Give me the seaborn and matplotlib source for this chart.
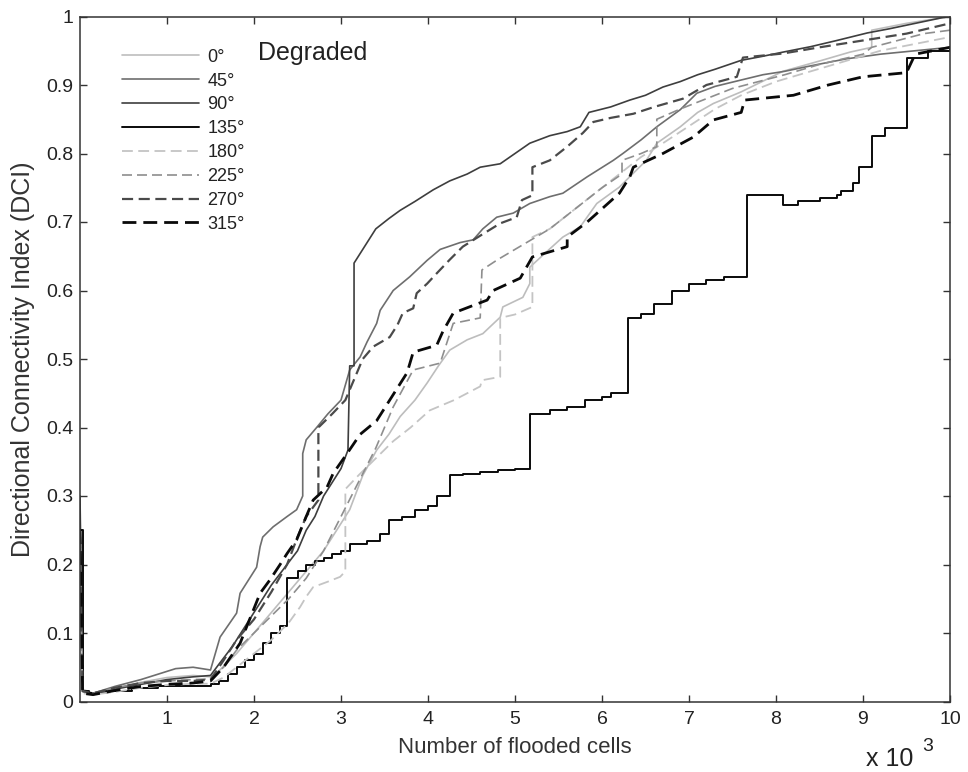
import matplotlib
matplotlib.use("Agg")
import matplotlib.pyplot as plt
from matplotlib.lines import Line2D
import numpy as np
import pandas as pd
import seaborn as sns

# Directional Connectivity Index vs number of flooded cells (x 10^3), degraded site
DIRECTIONS = ["0°", "45°", "90°", "135°", "180°", "225°", "270°", "315°"]

DCI_000 = [(0, .28), (.03, .018), (.15, .012), (.4, .018), (.7, .028), (1.0, .035), (1.3, .038),
           (1.5, .036), (1.6, .045), (1.8, .07), (2.0, .10), (2.2, .13), (2.4, .16), (2.6, .19),
           (2.8, .22), (3.0, .26), (3.1, .28), (3.25, .33), (3.41, .367), (3.55, .39), (3.68, .416),
           (3.85, .44), (3.99, .465), (4.12, .49), (4.25, .513), (4.45, .528), (4.63, .537),
           (4.83, .561), (4.86, .576), (5.09, .59), (5.17, .61), (5.17, .634), (5.35, .655),
           (5.55, .678), (5.75, .693), (5.94, .727), (6.2, .751), (6.35, .77), (6.51, .79),
           (6.63, .815), (6.9, .839), (7.1, .86), (7.28, .873), (7.6, .89), (8.08, .92), (8.5, .935),
           (8.85, .948), (9.1, .955), (9.1, .98), (9.5, .99), (10, 1.0)]

DCI_045 = [(0, .26), (.03, .015), (.15, .012), (.4, .022), (.7, .032), (.9, .04), (1.1, .048),
           (1.3, .05), (1.5, .046), (1.61, .094), (1.8, .129), (1.84, .158), (2.03, .196),
           (2.07, .226), (2.1, .24), (2.22, .255), (2.38, .27), (2.49, .28), (2.56, .30), (2.56, .362),
           (2.6, .382), (2.72, .40), (2.85, .42), (3.0, .44), (3.1, .484), (3.22, .503), (3.3, .525),
           (3.41, .552), (3.45, .571), (3.6, .60), (3.79, .62), (3.99, .644), (4.14, .66), (4.37, .67),
           (4.52, .674), (4.63, .69), (4.79, .707), (4.98, .713), (5.17, .727), (5.4, .737),
           (5.55, .742), (5.83, .766), (6.13, .79), (6.24, .80), (6.45, .82), (6.63, .839),
           (6.9, .864), (7.09, .888), (7.3, .898), (7.59, .907), (7.85, .915), (8.1, .92), (8.4, .928),
           (8.8, .938), (9.2, .945), (9.6, .95), (10, .955)]

DCI_090 = [(0, .30), (.03, .015), (.15, .012), (.4, .018), (.7, .025), (1.0, .032), (1.3, .036),
           (1.5, .038), (1.6, .055), (1.75, .08), (1.9, .11), (2.05, .14), (2.2, .17), (2.38, .20),
           (2.5, .22), (2.6, .25), (2.7, .27), (2.8, .30), (2.9, .32), (3.0, .34), (3.08, .367),
           (3.1, .49), (3.15, .49), (3.15, .64), (3.25, .66), (3.4, .69), (3.55, .705), (3.68, .717),
           (3.85, .73), (4.06, .747), (4.25, .76), (4.45, .77), (4.6, .78), (4.83, .785), (5.0, .80),
           (5.17, .815), (5.4, .826), (5.6, .832), (5.75, .839), (5.85, .86), (6.1, .868),
           (6.32, .878), (6.5, .885), (6.7, .897), (6.9, .905), (7.1, .915), (7.3, .923), (7.6, .936),
           (7.85, .942), (8.08, .948), (8.4, .956), (8.7, .965), (9.05, .976), (9.3, .982),
           (9.6, .99), (9.9, .998), (10, 1.0)]

DCI_135 = [(0, .25), (.03, .015), (.1, .012), (.3, .015), (.6, .02), (.9, .022), (1.2, .022),
           (1.5, .025), (1.6, .03), (1.7, .04), (1.8, .05), (1.9, .06), (2.0, .07), (2.1, .085),
           (2.2, .10), (2.3, .11), (2.38, .18), (2.5, .19), (2.6, .20), (2.7, .205), (2.8, .21),
           (2.9, .215), (3.0, .22), (3.1, .23), (3.3, .235), (3.45, .245), (3.55, .265), (3.7, .27),
           (3.85, .28), (4.0, .285), (4.1, .30), (4.25, .33), (4.4, .332), (4.6, .335), (4.8, .338),
           (5.0, .34), (5.17, .42), (5.4, .425), (5.6, .43), (5.8, .44), (6.0, .445), (6.1, .45),
           (6.3, .56), (6.45, .565), (6.6, .58), (6.8, .60), (7.0, .61), (7.2, .615), (7.4, .62),
           (7.67, .74), (8.08, .725), (8.25, .73), (8.5, .735), (8.7, .74), (8.75, .745),
           (8.89, .757), (8.95, .78), (9.1, .825), (9.25, .837), (9.5, .94), (9.75, .95), (10, .955)]

DCI_180 = [(0, .20), (.03, .012), (.15, .01), (.4, .014), (.7, .02), (1.0, .024), (1.3, .026),
           (1.5, .026), (1.65, .035), (1.8, .05), (2.0, .07), (2.2, .09), (2.4, .115), (2.53, .138),
           (2.6, .153), (2.68, .167), (2.85, .175), (2.99, .182), (3.05, .19), (3.05, .31),
           (3.2, .33), (3.4, .355), (3.6, .38), (3.8, .40), (4.02, .425), (4.3, .44), (4.6, .46),
           (4.62, .469), (4.83, .474), (4.83, .56), (5.0, .565), (5.2, .576), (5.2, .678),
           (5.4, .69), (5.6, .71), (5.8, .73), (6.0, .75), (6.2, .77), (6.45, .795), (6.7, .815),
           (7.0, .84), (7.3, .865), (7.6, .885), (8.0, .905), (8.4, .92), (8.8, .935), (9.2, .95),
           (9.6, .96), (10, .97)]

DCI_225 = [(0, .22), (.03, .015), (.15, .012), (.4, .02), (.7, .027), (1.0, .03), (1.3, .032),
           (1.5, .033), (1.65, .05), (1.8, .075), (2.0, .10), (2.2, .125), (2.4, .15), (2.6, .18),
           (2.8, .22), (3.0, .27), (3.2, .32), (3.4, .37), (3.6, .43), (3.83, .484), (4.14, .494),
           (4.29, .552), (4.6, .56), (4.62, .63), (4.8, .645), (5.0, .66), (5.2, .675), (5.4, .69),
           (5.6, .71), (5.8, .73), (6.0, .75), (6.23, .77), (6.23, .79), (6.45, .80), (6.63, .81),
           (6.63, .85), (6.9, .865), (7.2, .88), (7.5, .895), (7.8, .905), (8.1, .915), (8.5, .93),
           (9.0, .945), (9.1, .955), (9.4, .965), (9.7, .975), (10, .98)]

DCI_270 = [(0, .24), (.03, .015), (.15, .012), (.4, .02), (.7, .027), (1.0, .03), (1.3, .03),
           (1.5, .032), (1.65, .06), (1.8, .09), (2.0, .12), (2.2, .16), (2.38, .20), (2.5, .24),
           (2.6, .27), (2.74, .294), (2.74, .40), (2.9, .42), (3.05, .44), (3.15, .47), (3.25, .50),
           (3.37, .518), (3.56, .532), (3.65, .55), (3.71, .567), (3.83, .574), (3.87, .596),
           (3.99, .61), (4.1, .625), (4.25, .645), (4.4, .664), (4.6, .68), (4.83, .698),
           (5.02, .707), (5.08, .732), (5.2, .739), (5.2, .78), (5.4, .79), (5.6, .81), (5.78, .83),
           (5.9, .846), (6.1, .852), (6.36, .858), (6.6, .868), (6.93, .88), (7.2, .90),
           (7.55, .912), (7.62, .94), (8.08, .946), (8.5, .955), (9.0, .965), (9.5, .975), (10, .99)]

DCI_315 = [(0, .25), (.03, .012), (.15, .01), (.4, .016), (.7, .022), (1.0, .025), (1.3, .027),
           (1.5, .03), (1.65, .05), (1.84, .085), (1.95, .12), (2.07, .158), (2.18, .177),
           (2.3, .20), (2.38, .216), (2.49, .236), (2.6, .27), (2.68, .294), (2.84, .313),
           (2.91, .333), (3.07, .362), (3.22, .39), (3.41, .41), (3.56, .44), (3.76, .48),
           (3.83, .51), (4.1, .52), (4.17, .54), (4.29, .567), (4.68, .586), (4.75, .60),
           (5.06, .618), (5.2, .649), (5.6, .664), (5.6, .678), (5.83, .70), (5.98, .717),
           (6.2, .742), (6.32, .766), (6.36, .78), (6.7, .80), (7.05, .824), (7.28, .849),
           (7.6, .86), (7.64, .878), (8.2, .885), (8.6, .90), (9.0, .912), (9.5, .918),
           (9.6, .945), (10, .955)]

SERIES = [DCI_000, DCI_045, DCI_090, DCI_135, DCI_180, DCI_225, DCI_270, DCI_315]

# line appearance per direction: colour, dash pattern (None = solid), width, drawstyle
COLORS = ["#bdbdbd", "#6e6e6e", "#3e3e3e", "#0a0a0a", "#c4c4c4", "#8e8e8e", "#4a4a4a", "#0a0a0a"]
DASHES = [None, None, None, None, (6, 3), (6, 3), (5, 2.5), (5, 2.5)]
WIDTHS = [1.2, 1.2, 1.2, 1.4, 1.3, 1.2, 1.6, 2.0]
DRAW = ["default", "default", "default", "steps-post", "default", "default", "default", "default"]

X_TICKS = list(range(1, 11))
Y_TICKS = [0, .1, .2, .3, .4, .5, .6, .7, .8, .9, 1]
Y_TICK_LABELS = ["0", "0.1", "0.2", "0.3", "0.4", "0.5", "0.6", "0.7", "0.8", "0.9", "1"]

sns.set_style("white")
plt.rcParams["font.family"] = ["Liberation Sans", "DejaVu Sans"]

W, H = 968, 772
fig = plt.figure(figsize=(W / 100, H / 100), dpi=100)
ax = fig.add_axes([80 / W, (H - 701.5) / H, 870 / W, 685 / H])

handles = []
for name, pts, col, dsh, lw, ds in zip(DIRECTIONS, SERIES, COLORS, DASHES, WIDTHS, DRAW):
    df = pd.DataFrame(pts, columns=["cells", "dci"])
    ls = "-" if dsh is None else (0, dsh)
    sns.lineplot(data=df, x="cells", y="dci", ax=ax, color=col, linewidth=lw,
                 linestyle=ls, estimator=None, sort=False, drawstyle=ds)
    handles.append(Line2D([0], [0], color=col, lw=lw, linestyle=ls, label=name))

ax.set_xlim(0, 10)
ax.set_ylim(0, 1)
ax.set_xticks(X_TICKS)
ax.set_xticklabels([str(t) for t in X_TICKS])
ax.set_yticks(Y_TICKS)
ax.set_yticklabels(Y_TICK_LABELS)
ax.tick_params(direction="in", length=5, width=1, colors="#333333", labelcolor="#222222",
               labelsize=14, top=True, right=True, bottom=True, left=True)
ax.tick_params(axis="x", pad=7)
ax.tick_params(axis="y", pad=5)
for sp in ax.spines.values():
    sp.set_color("#333333")
    sp.set_linewidth(1.1)
    sp.set_visible(True)

ax.set_xlabel("Number of flooded cells", fontsize=16, color="#333333")
ax.set_ylabel("Directional Connectivity Index (DCI)", fontsize=18, color="#333333")
ax.xaxis.set_label_coords(0.5, -0.052)
ax.yaxis.set_label_coords(-0.052, 0.5)

leg = ax.legend(handles=handles, loc="upper left", bbox_to_anchor=(0.048, 0.953),
                frameon=False, fontsize=13, handlelength=4.3, handletextpad=0.45,
                labelspacing=0.38, borderpad=0, borderaxespad=0)
for t in leg.get_texts():
    t.set_color("#222222")

fig.text(258 / W, 1 - 53 / H, "Degraded", fontsize=18, va="center", ha="left", color="#222222")
fig.text(866 / W, 1 - 766 / H, "x 10", fontsize=18, va="baseline", ha="left", color="#222222")
fig.text(922 / W, 1 - 751 / H, "3", fontsize=14, va="baseline", ha="left", color="#222222")

fig.savefig("out.png", dpi=100)
